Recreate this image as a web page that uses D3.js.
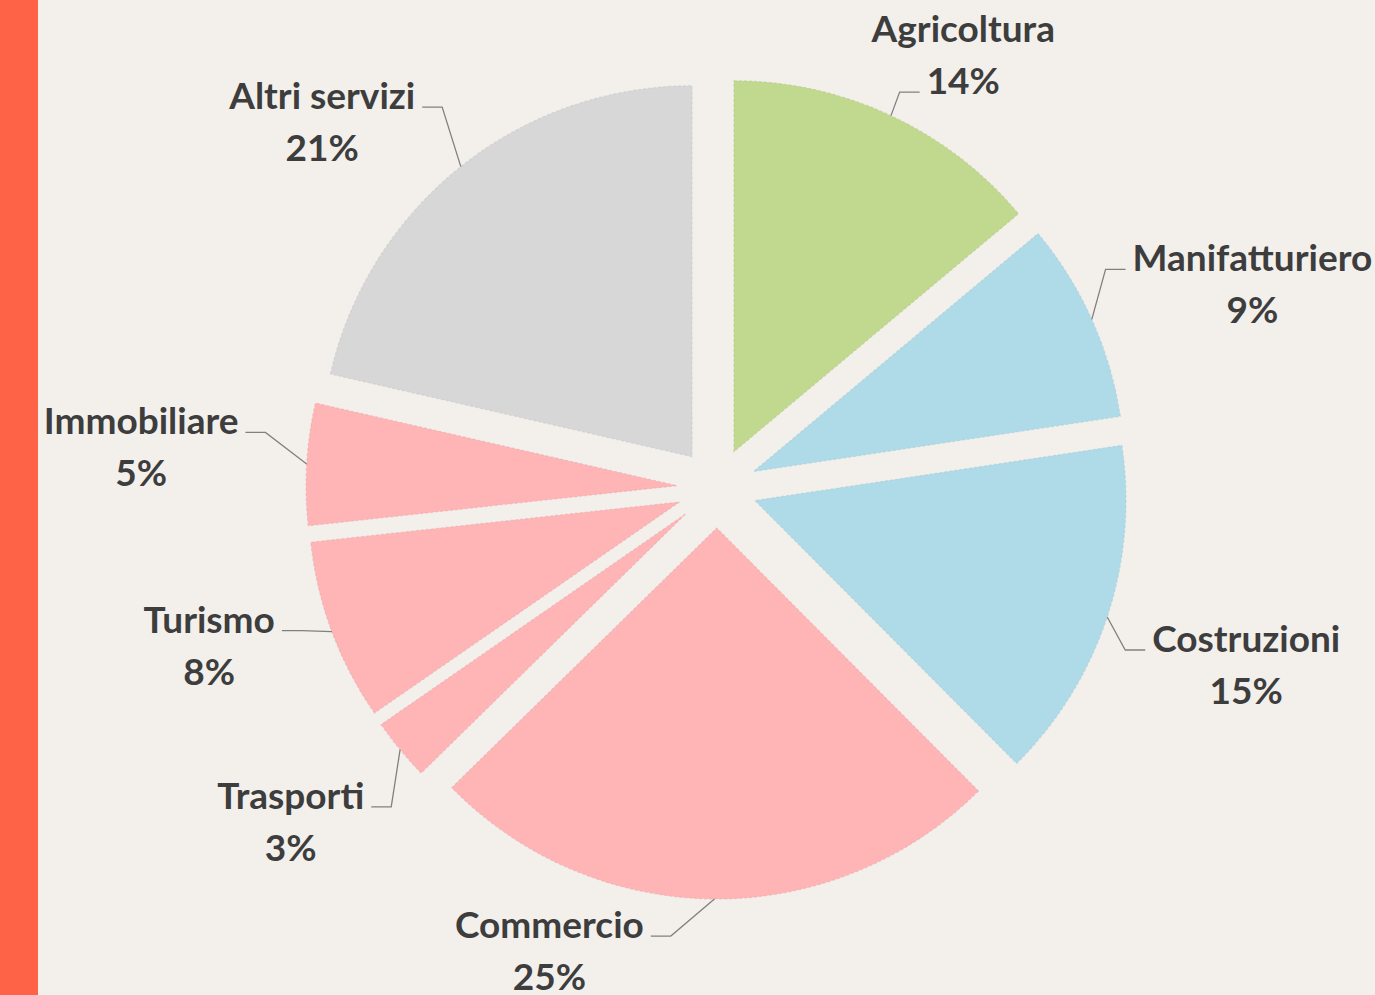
<!DOCTYPE html>
<html>
<head>
<meta charset="utf-8">
<script src="https://cdn.jsdelivr.net/npm/d3@7/dist/d3.min.js"></script>
<style>
  html, body { margin: 0; padding: 0; background: #f3f0ec; }
  svg { display: block; }
  text.lbl { font-family: Lato, "Open Sans", sans-serif; font-weight: 700; fill: #3d3d3d; text-anchor: middle; }
</style>
</head>
<body>
<svg id="chart"></svg>
<script>
// sectors, clockwise from 12 o'clock (shares)
const sectors = ["Agricoltura", "Manifatturiero", "Costruzioni", "Commercio", "Trasporti", "Turismo", "Immobiliare", "Altri servizi"];
const shares = [13.9, 8.7, 14.9, 25.1, 2.7, 7.9, 5.3, 21.4];
const groups = ["agricoltura", "industria", "industria", "servizi", "servizi", "servizi", "servizi", "altro"];

// label placement: turn away from slice middle (deg) and distance (x radius)
const labelTurn = [4.65, 3.5, 0.3, 19.5, 1.4, 3.1, 0.6, -8.7];
const labelReach = [1.34, 1.543, 1.505, 1.33, 1.461, 1.434, 1.556, 1.449];

const width = 1375;
const height = 995;
const cx = 717, cy = 488;
const radius = 371;
const explode = 40;
const lineGap = 52;

const svg = d3.select("svg#chart")
  .attr("width", width)
  .attr("height", height);

svg.append("rect")
  .attr("width", width)
  .attr("height", height)
  .style("fill", "#f3f0ec");

//orange strip on the left
svg.append("rect")
  .attr("width", 38)
  .attr("height", height)
  .style("fill", "#ff6347");

let total = d3.sum(shares);
let data = sectors.map((s, i) => ({ sector: s, share: shares[i], group: groups[i], turn: labelTurn[i], reach: labelReach[i] }));

let colorScale = d3.scaleOrdinal()
  .domain(["agricoltura", "industria", "servizi", "altro"])
  .range(["#c1d98f", "#afdbe8", "#ffb4b6", "#d8d7d7"]);

let pie = d3.pie().sort(null).value(d => d.share);
let arc = d3.arc().innerRadius(0).outerRadius(radius);

const mid = d => (d.startAngle + d.endAngle) / 2;
const polar = (a, r) => [r * Math.sin(a), -r * Math.cos(a)];

let plotArea = svg.append("g")
  .attr("id", "plot-area")
  .attr("transform", "translate(" + cx + ", " + cy + ")");

let arcs = pie(data);

plotArea.selectAll("path.slice")
  .data(arcs)
  .enter()
  .append("path")
  .attr("class", "slice")
  .attr("transform", d => {
    let [x, y] = polar(mid(d), explode);
    return "translate(" + x + ", " + y + ")";
  })
  .attr("d", arc)
  .style("fill", d => colorScale(d.data.group))
  .style("stroke", d => d3.color(colorScale(d.data.group)).darker(0.3))
  .style("stroke-opacity", 0.45)
  .style("stroke-width", 1.2)
  .style("stroke-dasharray", "3,2");

// labels + leader lines
let labels = plotArea.selectAll("g.label")
  .data(arcs)
  .enter()
  .append("g")
  .attr("class", "label");

labels.each(function(d) {
  let g = d3.select(this);
  let a = mid(d) + d.data.turn * Math.PI / 180;
  let [lx, ly] = polar(a, radius * d.data.reach);
  let base1 = ly - 14;

  let name = g.append("text").attr("class", "lbl")
    .attr("x", lx).attr("y", base1)
    .style("font-size", "37px")
    .text(d.data.sector);
  let pct = g.append("text").attr("class", "lbl")
    .attr("x", lx).attr("y", base1 + lineGap)
    .style("font-size", "37px")
    .text(Math.round(d.data.share / total * 100) + "%");

  let t = Math.cos(a) > 0.8 ? pct : name;
  let w = t.node().getComputedTextLength();
  let ty = +t.attr("y") - 2;
  let e = polar(mid(d), explode);
  let o = polar(mid(d), radius);
  let px = e[0] + o[0], py = e[1] + o[1];
  let toRight = lx < px;
  let x0 = toRight ? lx + w / 2 + 7 : lx - w / 2 - 7;
  let x1 = toRight ? x0 + 20 : x0 - 20;

  g.insert("path", "text")
    .attr("d", d3.line()([[x0, ty], [x1, ty], [px, py]]))
    .style("fill", "none")
    .style("stroke", "#808080")
    .style("stroke-width", 1.3);
});
</script>
</body>
</html>
